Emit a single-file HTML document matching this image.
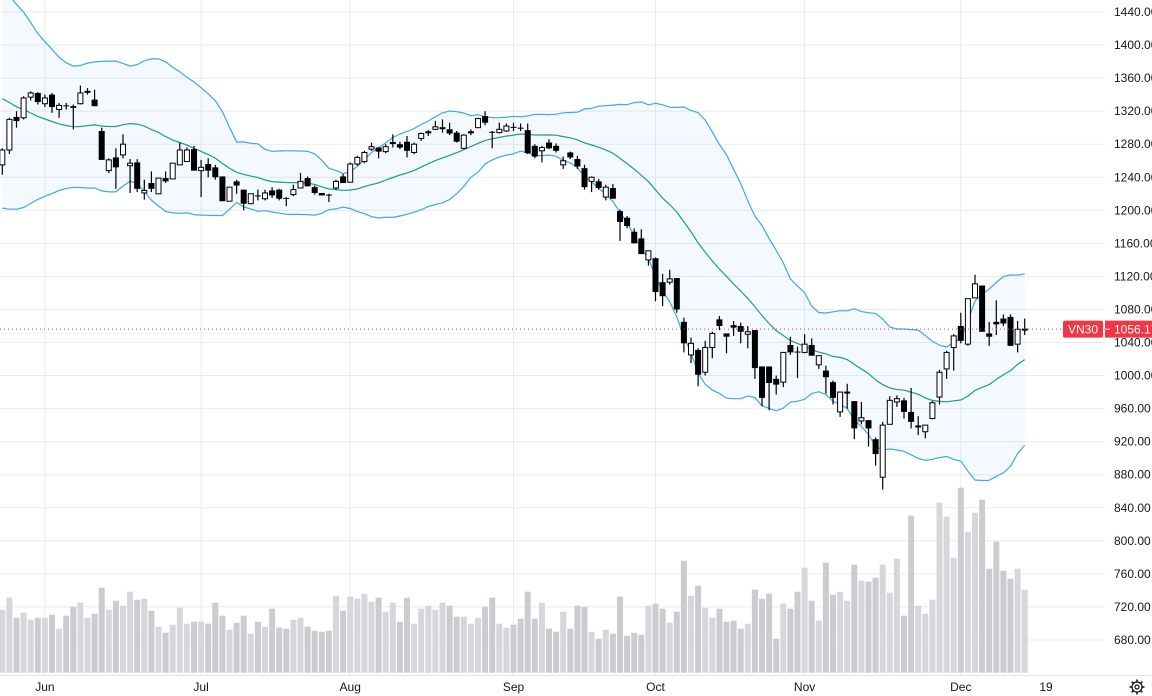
<!DOCTYPE html>
<html><head><meta charset="utf-8"><style>
html,body{margin:0;padding:0;background:#fff;}
svg{display:block;font-family:"Liberation Sans",sans-serif;}
</style></head><body>
<svg id="chart" width="1152" height="696" viewBox="0 0 1152 696" xmlns="http://www.w3.org/2000/svg">
<g id="grid"></g>
<g id="bands"></g>
<g id="volume"></g>
<g id="candles"></g>
<g id="yaxis"></g>
<g id="xaxis"></g>
<g id="marker"></g>
<g transform="translate(1137,687)">
<circle r="5" fill="none" stroke="#131722" stroke-width="1.3"/><circle r="2" fill="none" stroke="#131722" stroke-width="1.2"/>
<g stroke="#131722" stroke-width="1.6"><line x1="0" y1="-7.5" x2="0" y2="-5"/><line x1="0" y1="5" x2="0" y2="7.5"/><line x1="-7.5" y1="0" x2="-5" y2="0"/><line x1="5" y1="0" x2="7.5" y2="0"/><line x1="-5.3" y1="-5.3" x2="-3.5" y2="-3.5"/><line x1="3.5" y1="3.5" x2="5.3" y2="5.3"/><line x1="-5.3" y1="5.3" x2="-3.5" y2="3.5"/><line x1="3.5" y1="-3.5" x2="5.3" y2="-5.3"/></g>
</g>
</svg>
<script>
const opens=[1255,1273,1313,1312,1337,1342,1329,1340,1322,1327,1326,1329,1343,1334,1296,1248,1264,1267,1254,1258,1221,1233,1220,1239,1238,1255,1259,1274,1248,1256,1252,1241,1211,1235,1225,1208,
1218,1214,1224,1225,1215,1219,1227,1239,1228,1221,1219,1227,1241,1234,1256,1259,1274,1276,1271,1281,1280,1283,1270,1287,1294,1298,1300,1298,1294,1275,1294,1300,1314,1295,1294,1296,1301,1300,1297,
1278,1272,1282,1278,1255,1270,1262,1251,1235,1235,1216,1227,1199,1191,1174,1166,1140,1142,1113,1113,1118,1065,1025,1031,1004,1034,1068,1051,1061,1060,1050,1055,1011,1011,996,
992,1037,1029,1028,1037,1013,1006,992,956,980,969,945,946,923,877,941,968,970,956,939,932,948,974,1008,1034,1060,1038,1094,1109,1051,1065,1069,1071,1038,1056];
const highs=[1275,1312,1320,1338,1344,1343,1340,1342,1330,1330,1328,1351,1348,1346,1300,1263,1275,1292,1262,1262,1237,1247,1239,1247,1257,1282,1276,1278,1261,1263,1255,1241,1228,1237,1225,1220,
1225,1225,1228,1226,1216,1231,1245,1241,1230,1221,1220,1237,1244,1258,1266,1272,1282,1276,1280,1292,1283,1290,1282,1294,1297,1308,1310,1306,1296,1292,1298,1312,1320,1296,1306,1305,1306,1305,1305,
1280,1278,1286,1281,1265,1271,1266,1255,1241,1238,1231,1232,1201,1193,1178,1177,1151,1143,1123,1128,1118,1070,1046,1033,1042,1053,1072,1051,1066,1064,1060,1055,1011,1011,1000,
1028,1047,1035,1050,1045,1024,1012,994,980,990,969,968,946,925,944,975,976,973,985,951,940,969,1007,1030,1050,1076,1093,1122,1109,1065,1091,1074,1074,1066,1069];
const lows=[1243,1268,1300,1310,1333,1328,1325,1318,1312,1322,1298,1328,1340,1326,1261,1245,1226,1263,1221,1222,1213,1222,1220,1233,1238,1255,1259,1248,1216,1240,1237,1211,1211,1220,1200,1208,
1212,1212,1215,1212,1205,1217,1227,1229,1219,1218,1210,1225,1233,1234,1254,1257,1272,1263,1269,1276,1274,1264,1268,1284,1290,1297,1294,1291,1282,1274,1291,1300,1303,1275,1293,1295,1296,1296,1268,
1263,1258,1274,1270,1250,1262,1250,1225,1222,1225,1212,1214,1163,1178,1160,1147,1133,1090,1084,1110,1076,1028,1015,987,1000,1021,1055,1027,1048,1039,1033,996,963,958,977,
986,1025,997,1027,1024,1008,978,965,950,960,923,941,914,891,862,941,962,948,936,928,924,947,965,996,1006,1039,1036,1094,1053,1036,1049,1060,1036,1028,1049];
const closes=[1273,1310,1308,1336,1342,1331,1336,1325,1327,1326,1324,1342,1344,1326,1261,1261,1252,1280,1257,1226,1224,1226,1239,1235,1257,1273,1273,1248,1252,1248,1240,1211,1228,1230,1208,1220,
1217,1221,1218,1214,1214,1225,1235,1229,1221,1218,1218,1235,1233,1256,1264,1270,1277,1271,1277,1282,1276,1272,1280,1293,1295,1301,1300,1293,1283,1291,1295,1311,1306,1294,1298,1302,1300,1299,1269,
1265,1276,1275,1272,1260,1264,1253,1228,1240,1227,1228,1214,1186,1181,1160,1147,1151,1101,1096,1117,1080,1039,1039,1001,1034,1051,1060,1047,1058,1053,1053,1009,973,991,989,
1028,1028,1028,1038,1024,1024,998,973,980,980,936,949,936,905,940,970,972,956,944,939,940,967,1004,1028,1048,1042,1093,1111,1053,1047,1062,1063,1036,1056,1056.17];
const priorCloses=[1402,1412,1407,1422,1415,1397,1385,1385,1367,1352,1337,1322,1310,1290,1270,1252,1237,1230,1237];
const volumes=[63,75,55,60,53,55,55,58,44,57,66,70,55,59,85,63,72,67,81,73,74,62,46,40,48,65,49,51,51,49,70,57,43,50,57,39,51,46,64,45,44,53,55,46,42,41,42,77,62,76,74,79,71,75,61,70,51,75,49,64,67,63,70,67,56,56,49,55,66,75,49,45,48,54,
81,54,70,44,41,61,44,67,66,41,34,43,39,76,37,40,38,67,69,64,50,61,112,77,87,65,55,64,51,52,44,49,83,74,79,34,69,64,81,105,72,52,110,78,81,72,108,92,91,95,108,80,114,57,157,67,59,73,170,156,115,185,141,160,173,104,131,102,94,104,83];
const priceTicks=[1440,1400,1360,1320,1280,1240,1200,1160,1120,1080,1040,1000,960,920,880,840,800,760,720,680];
const timeLabels=["Jun","Jul","Aug","Sep","Oct","Nov","Dec","19"];
const timeIdx=[6,28,49,72,92,113,135,147];
const lastLabel="VN30";
const lastPrice=1056.17;

const NS="http://www.w3.org/2000/svg";
const PLOT_R=1105, VOL_BASE=672.7;
const xOf=i=>2.3+i*7.1;
const yOf=p=>12+(1440-p)*33.05/40;
const vY=v=>VOL_BASE-v;
function mk(tag,attrs,parent){const e=document.createElementNS(NS,tag);for(const k in attrs)e.setAttribute(k,attrs[k]);parent.appendChild(e);return e;}

const grid=document.getElementById('grid');
priceTicks.forEach(p=>{const l=mk('line',{x1:0,x2:PLOT_R,y1:yOf(p),y2:yOf(p),stroke:'#eaebee','stroke-width':1},grid);

});
timeIdx.slice(0,7).forEach(i=>{const l=mk('line',{x1:xOf(i),x2:xOf(i),y1:0,y2:675,stroke:'#eaebee','stroke-width':1},grid);

});

const all=priorCloses.concat(closes);const up=[],mid=[],lo=[];
for(let i=0;i<closes.length;i++){const w=all.slice(i,i+20);const m=w.reduce((a,b)=>a+b,0)/20;const sd=Math.sqrt(w.reduce((a,b)=>a+(b-m)*(b-m),0)/20);mid.push(m);up.push(m+2*sd);lo.push(m-2*sd);}
const bands=document.getElementById('bands');
const pts=a=>a.map((v,i)=>xOf(i).toFixed(1)+','+yOf(v).toFixed(1));
const fill=mk('polygon',{points:pts(up).concat(pts(lo).reverse()).join(' '),fill:'#2196f3','fill-opacity':0.055},bands);


const ul=mk('polyline',{points:pts(up).join(' '),fill:'none',stroke:'#42a5f5','stroke-width':1.2},bands);


const ml=mk('polyline',{points:pts(mid).join(' '),fill:'none',stroke:'#1e9e8c','stroke-width':1.2},bands);


const ll=mk('polyline',{points:pts(lo).join(' '),fill:'none',stroke:'#42a5f5','stroke-width':1.2},bands);



const vol=document.getElementById('volume');
volumes.forEach((v,i)=>{const upC=closes[i]>=opens[i];const r=mk('rect',{x:xOf(i)-3,y:vY(v),width:6,height:v,fill:upC?'#d6d7db':'#cbccd0'},vol);

});

const cg=document.getElementById('candles');
closes.forEach((c,i)=>{const o=opens[i];const x=xOf(i);const g=mk('g',{},cg);


const top=Math.min(yOf(o),yOf(c)),bot=Math.max(yOf(o),yOf(c));
mk('line',{x1:x,x2:x,y1:yOf(highs[i]),y2:yOf(lows[i]),stroke:'#000','stroke-width':1.2},g);
const h=Math.max(bot-top,1);
if(c>=o)mk('rect',{x:x-2.5,y:top,width:5,height:h,fill:'#fff',stroke:'#000','stroke-width':1},g);
else mk('rect',{x:x-3,y:top,width:6,height:h,fill:'#000'},g);});

const ya=document.getElementById('yaxis');
priceTicks.forEach(p=>{const t=mk('text',{x:1114,y:yOf(p)+4,'font-size':12,fill:'#131722'},ya);t.textContent=p.toFixed(2);

});
const xa=document.getElementById('xaxis');
mk('line',{x1:0,x2:1152,y1:675.5,y2:675.5,stroke:'#e0e3eb','stroke-width':1},xa);
timeLabels.forEach((s,k)=>{const t=mk('text',{x:xOf(timeIdx[k]),y:691,'font-size':12,fill:'#131722','text-anchor':'middle'},xa);t.textContent=s;

});

const mg=document.getElementById('marker');const ly=yOf(lastPrice);
const dl=mk('line',{x1:0,x2:PLOT_R,y1:ly,y2:ly,stroke:'#f23645','stroke-width':1,'stroke-dasharray':'1,3'},mg);


const b1=mk('rect',{x:1063,y:ly-8.5,width:40,height:17,rx:2,fill:'#f23645'},mg);


const t1=mk('text',{x:1083,y:ly+4.5,'font-size':12,fill:'#fff','text-anchor':'middle'},mg);t1.textContent=lastLabel;
const b2=mk('rect',{x:1105,y:ly-8.5,width:50,height:17,fill:'#f23645'},mg);


mk('line',{x1:1105,x2:1110,y1:ly,y2:ly,stroke:'#fff','stroke-width':1},mg);
const t2=mk('text',{x:1114,y:ly+4.5,'font-size':12,fill:'#fff'},mg);t2.textContent=lastPrice.toFixed(2);
</script>
</body></html>
